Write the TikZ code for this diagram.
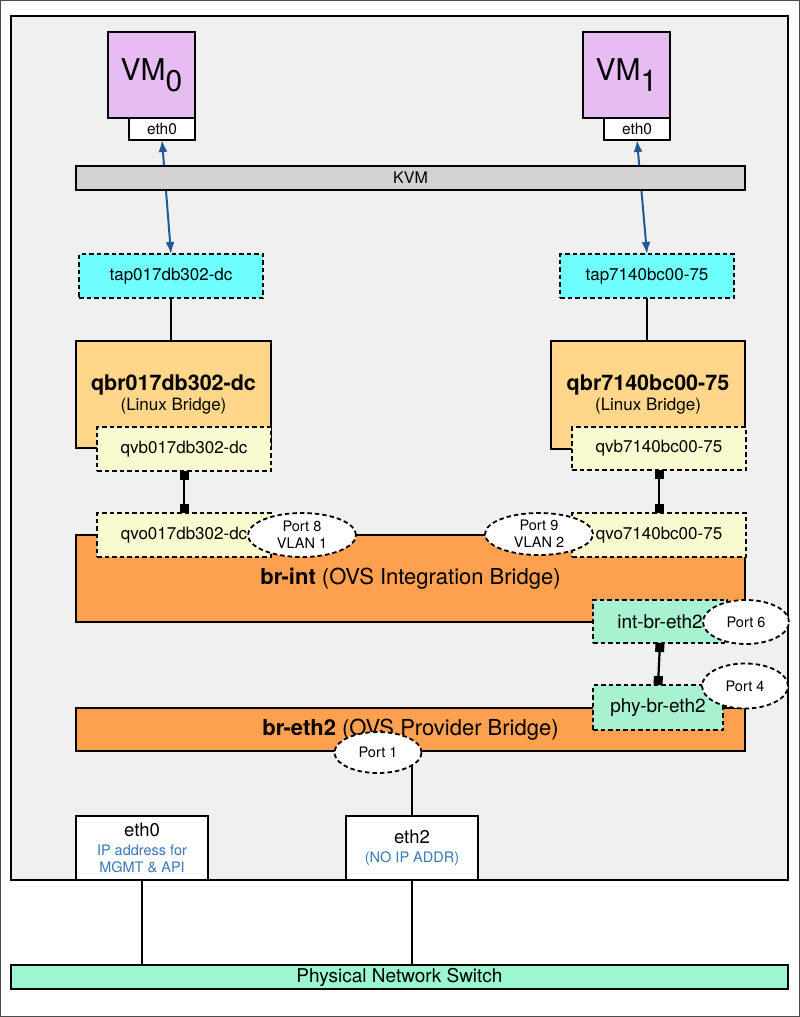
\documentclass[tikz,border=0pt]{standalone}
\usepackage{fontspec}
\setmainfont{TeX Gyre Heros}
\usetikzlibrary{arrows.meta,shapes.geometric}
\definecolor{hostgray}{HTML}{F0F0F0}
\definecolor{vmpurple}{HTML}{E6BCF2}
\definecolor{kvmgray}{HTML}{D3D3D3}
\definecolor{tapcyan}{HTML}{70FFFF}
\definecolor{qbrorange}{HTML}{FFD68A}
\definecolor{vethyellow}{HTML}{FAFAD0}
\definecolor{ovsorange}{HTML}{FDA050}
\definecolor{patchgreen}{HTML}{A8F2D2}
\definecolor{switchgreen}{HTML}{9CF7CE}
\definecolor{arrowblue}{HTML}{1F5A96}
\definecolor{textblue}{HTML}{3A78B8}

\begin{document}
\begin{tikzpicture}[x=1pt,y=-1pt,
  box/.style={draw,line width=1.8pt,inner sep=0pt,outer sep=0pt,align=center,font=\fontsize{17}{20}\selectfont},
  dbox/.style={box,dash pattern=on 4.5pt off 3pt},
  port/.style={ellipse,draw,fill=white,line width=1.8pt,dash pattern=on 4.5pt off 3pt,inner sep=0pt,align=center,font=\fontsize{14.5}{17}\selectfont},
  plug/.style={line width=2.2pt,{Square[length=9pt,width=9pt]}-{Square[length=9pt,width=9pt]}},
  kvmlink/.style={draw=arrowblue,line width=2pt,{Latex[length=12pt,width=9pt]}-{Latex[length=12pt,width=9pt]}}]
\useasboundingbox (0,0) rectangle (800,1017);
\draw[line width=1.2pt,gray!60!black] (0.6,0.6) rectangle (799.4,1016.4);
\draw[line width=2.2pt,fill=hostgray] (11,16) rectangle (788,880);

\node[box,fill=vmpurple,minimum width=87pt,minimum height=86pt,font=\fontsize{30}{30}\selectfont] (vm0) at (151.5,75) {VM\raisebox{-0.37em}{0}};
\node[box,fill=white,minimum width=66pt,minimum height=22pt,font=\fontsize{15.5}{15.5}\selectfont] (vm0eth) at (162,129) {eth0};
\node[box,fill=vmpurple,minimum width=87pt,minimum height=86pt,font=\fontsize{30}{30}\selectfont] (vm1) at (626.5,75) {VM\raisebox{-0.37em}{1}};
\node[box,fill=white,minimum width=66pt,minimum height=22pt,font=\fontsize{15.5}{15.5}\selectfont] (vm1eth) at (637,129) {eth0};

\node[dbox,fill=tapcyan,minimum width=184pt,minimum height=44pt] (tap0) at (171,276) {tap017db302-dc};
\node[dbox,fill=tapcyan,minimum width=174pt,minimum height=44pt] (tap1) at (647,276) {tap7140bc00-75};
\draw[kvmlink] (vm0eth.south) -- (tap0.north);
\draw[kvmlink] (vm1eth.south) -- (tap1.north);
\node[box,fill=kvmgray,minimum width=669pt,minimum height=24pt,font=\fontsize{16}{16}\selectfont] (kvm) at (410.5,178) {KVM};

\node[box,fill=qbrorange,minimum width=195pt,minimum height=107pt] (qbr0) at (173.5,394.5) {{\fontsize{21.5}{21.5}\selectfont\bfseries qbr017db302-dc}\\(Linux Bridge)};
\node[box,fill=qbrorange,minimum width=194pt,minimum height=108pt] (qbr1) at (648,395) {{\fontsize{21.5}{21.5}\selectfont\bfseries qbr7140bc00-75}\\(Linux Bridge)};
\draw[line width=1.8pt] (tap0.south) -- (tap0.south |- qbr0.north);
\draw[line width=1.8pt] (tap1.south) -- (tap1.south |- qbr1.north);
\node[dbox,fill=vethyellow,minimum width=174pt,minimum height=44pt] (qvb0) at (184,449) {qvb017db302-dc};
\node[dbox,fill=vethyellow,minimum width=174pt,minimum height=43pt] (qvb1) at (659,448.5) {qvb7140bc00-75};

\node[box,fill=ovsorange,minimum width=669pt,minimum height=87pt,font=\fontsize{22}{22}\selectfont] (brint) at (410.5,578.5) {\textbf{br-int} (OVS Integration Bridge)};
\node[dbox,fill=vethyellow,minimum width=174pt,minimum height=44pt] (qvo0) at (184,535) {qvo017db302-dc};
\node[dbox,fill=vethyellow,minimum width=174pt,minimum height=44pt] (qvo1) at (659,535) {qvo7140bc00-75};
\node[port,minimum width=108pt,minimum height=44pt] (port8) at (302,535) {Port 8\\VLAN 1};
\node[port,minimum width=108pt,minimum height=42pt] (port9) at (539,534) {Port 9\\VLAN 2};
\draw[plug] (qvb0.south) -- (qvo0.north);
\draw[plug] (qvb1.south) -- (qvo1.north);

\node[box,fill=ovsorange,minimum width=669pt,minimum height=43pt,font=\fontsize{22}{22}\selectfont] (breth2) at (410.5,729.5) {\textbf{br-eth2} (OVS Provider Bridge)};
\node[dbox,fill=patchgreen,minimum width=134pt,minimum height=43pt,font=\fontsize{19}{19}\selectfont] (intbr) at (660,621.5) {int-br-eth2};
\node[port,minimum width=86pt,minimum height=44pt] (port6) at (746,622) {Port 6};
\node[dbox,fill=patchgreen,minimum width=130pt,minimum height=45pt,font=\fontsize{19}{19}\selectfont] (phybr) at (658,707.5) {phy-br-eth2};
\node[port,minimum width=86pt,minimum height=45pt] (port4) at (745,686) {Port 4};
\draw[plug] (intbr.south) -- (phybr.north);
\node[port,minimum width=87pt,minimum height=41pt] (port1) at (378,752.5) {Port 1};

\node[box,fill=white,minimum width=132pt,minimum height=64pt,font=\fontsize{14.5}{17}\selectfont] (hosteth0) at (142,848) {{\fontsize{18.5}{18.5}\selectfont eth0}\\[2pt]\textcolor{textblue}{IP address for}\\\textcolor{textblue}{MGMT \& API}};
\node[box,fill=white,minimum width=132pt,minimum height=64pt,font=\fontsize{14.5}{17}\selectfont] (hosteth2) at (412,848) {{\fontsize{18.5}{18.5}\selectfont eth2}\\[2pt]\textcolor{textblue}{(NO IP ADDR)}};
\draw[line width=1.8pt] (hosteth2.north) -- (hosteth2.north |- port1.-21);
\node[box,fill=switchgreen,minimum width=777pt,minimum height=24pt,font=\fontsize{19}{19}\selectfont] (switch) at (399.5,977) {Physical Network Switch};
\draw[line width=1.8pt] (hosteth0.south) -- (hosteth0.south |- switch.north);
\draw[line width=1.8pt] (hosteth2.south) -- (hosteth2.south |- switch.north);
\end{tikzpicture}
\end{document}
